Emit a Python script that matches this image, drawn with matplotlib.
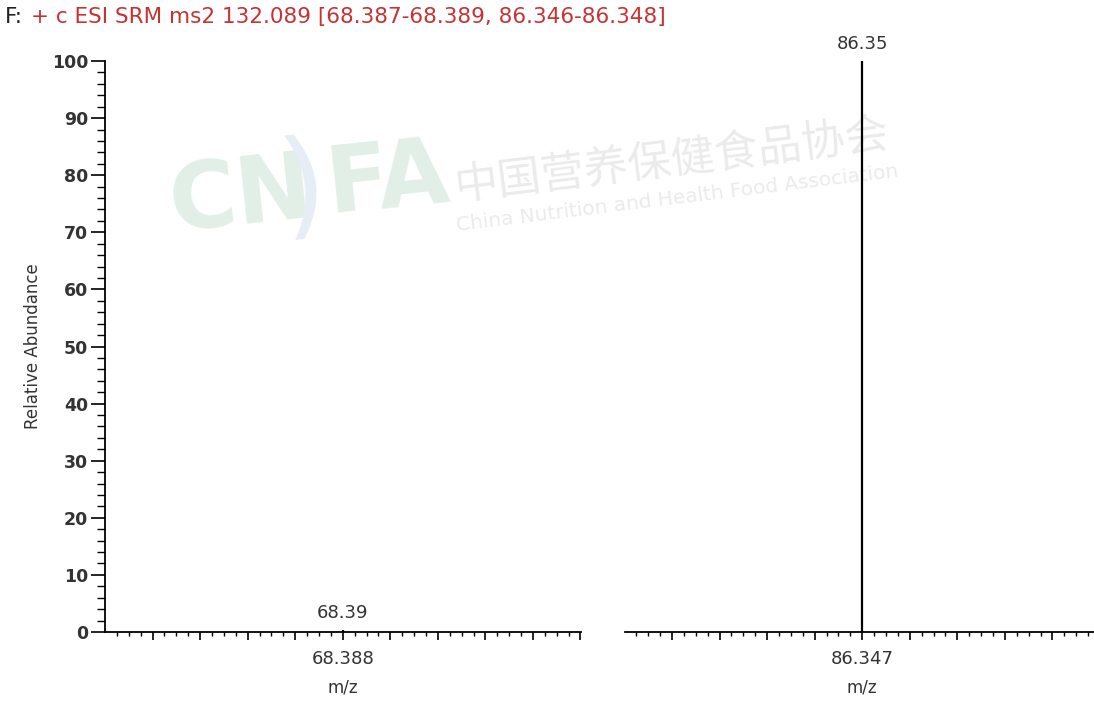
import matplotlib.pyplot as plt
from matplotlib.ticker import MultipleLocator, FixedLocator

plt.rcParams['font.family'] = ['DejaVu Sans', 'Noto Sans CJK SC']

# SRM transitions of precursor 132.089
filter_prefix = 'F:'
filter_text = '+ c ESI SRM ms2 132.089 [68.387-68.389, 86.346-86.348]'
peak_mz = [68.388, 86.347]
peak_abundance = [0.3, 100.0]
peak_labels = ['68.39', '86.35']
window_low = [68.387, 86.346]
window_high = [68.389, 86.348]
center_labels = ['68.388', '86.347']
y_ticks = [0, 10, 20, 30, 40, 50, 60, 70, 80, 90, 100]

W, H = 1094, 707
fig = plt.figure(figsize=(W / 100, H / 100), dpi=100)
fig.patch.set_facecolor('white')


def frac(x0, y0, x1, y1):
    return [x0 / W, 1 - y1 / H, (x1 - x0) / W, (y1 - y0) / H]


ax1 = fig.add_axes(frac(105, 61, 580.5, 632))
ax2 = fig.add_axes(frac(624.5, 61, 1100, 632))
txt = '#333333'

for i, ax in enumerate([ax1, ax2]):
    ax.set_zorder(2)
    ax.set_xlim(window_low[i], window_high[i])
    ax.set_ylim(0, 100)
    ax.vlines(peak_mz[i], 0, peak_abundance[i], color='black', lw=1.6, zorder=3)
    ax.annotate(peak_labels[i], (peak_mz[i], peak_abundance[i]),
                xytext=(0, 6), textcoords='offset points',
                ha='center', va='bottom', fontsize=13, color=txt)
    ax.spines['top'].set_visible(False)
    ax.spines['right'].set_visible(False)
    ax.spines['bottom'].set_linewidth(1.3)
    ax.set_facecolor('none')
    step = (window_high[i] - window_low[i]) / 10
    ax.xaxis.set_major_locator(MultipleLocator(step))
    ax.xaxis.set_minor_locator(MultipleLocator(step / 4))
    ax.tick_params(axis='x', which='major', length=6, width=1.2, labelbottom=False)
    ax.tick_params(axis='x', which='minor', length=3, width=1.0)
    ax.text(peak_mz[i], -0.048, center_labels[i], transform=ax.get_xaxis_transform(),
            ha='center', va='center', fontsize=13, color=txt)
    ax.text(peak_mz[i], -0.098, 'm/z', transform=ax.get_xaxis_transform(),
            ha='center', va='center', fontsize=12, color=txt)

ax1.spines['left'].set_linewidth(1.3)
ax1.yaxis.set_major_locator(FixedLocator(y_ticks))
ax1.yaxis.set_minor_locator(MultipleLocator(2))
ax1.tick_params(axis='y', which='major', length=10, width=1.2, labelsize=12.5,
                labelcolor=txt, pad=2)
ax1.tick_params(axis='y', which='minor', length=6, width=1.0)
for lab in ax1.get_yticklabels():
    lab.set_fontweight('bold')
ax1.set_ylabel('Relative Abundance', fontsize=12, color=txt, labelpad=7)

ax2.spines['left'].set_visible(False)
ax2.tick_params(axis='y', which='both', left=False, labelleft=False)

# scan filter header
fig.text(5 / W, 1 - 17 / H, filter_prefix, fontsize=15.5, color='#222222', va='center')
fig.text(31 / W, 1 - 17 / H, filter_text, fontsize=15.5, color='#c83232', va='center')

# faint association watermark, kept behind the spectra
fig.text(165 / W, 1 - 198 / H, 'CN', fontsize=66, fontweight='bold', color='#e2efe6',
         rotation=6, va='center', zorder=0)
fig.text(275 / W, 1 - 190 / H, ')', fontsize=85, color='#e6edf6', rotation=6,
         va='center', zorder=0)
fig.text(322 / W, 1 - 180 / H, 'FA', fontsize=66, fontweight='bold', color='#e2efe6',
         rotation=6, va='center', zorder=0)
fig.text(452 / W, 1 - 160 / H, '中国营养保健食品协会', fontsize=31.5, color='#ebebeb',
         rotation=7, va='center', zorder=0)
fig.text(455 / W, 1 - 198 / H, 'China Nutrition and Health Food Association',
         fontsize=14.5, color='#ebebeb', rotation=7, va='center', zorder=0)

fig.savefig('out.png', dpi=100)
